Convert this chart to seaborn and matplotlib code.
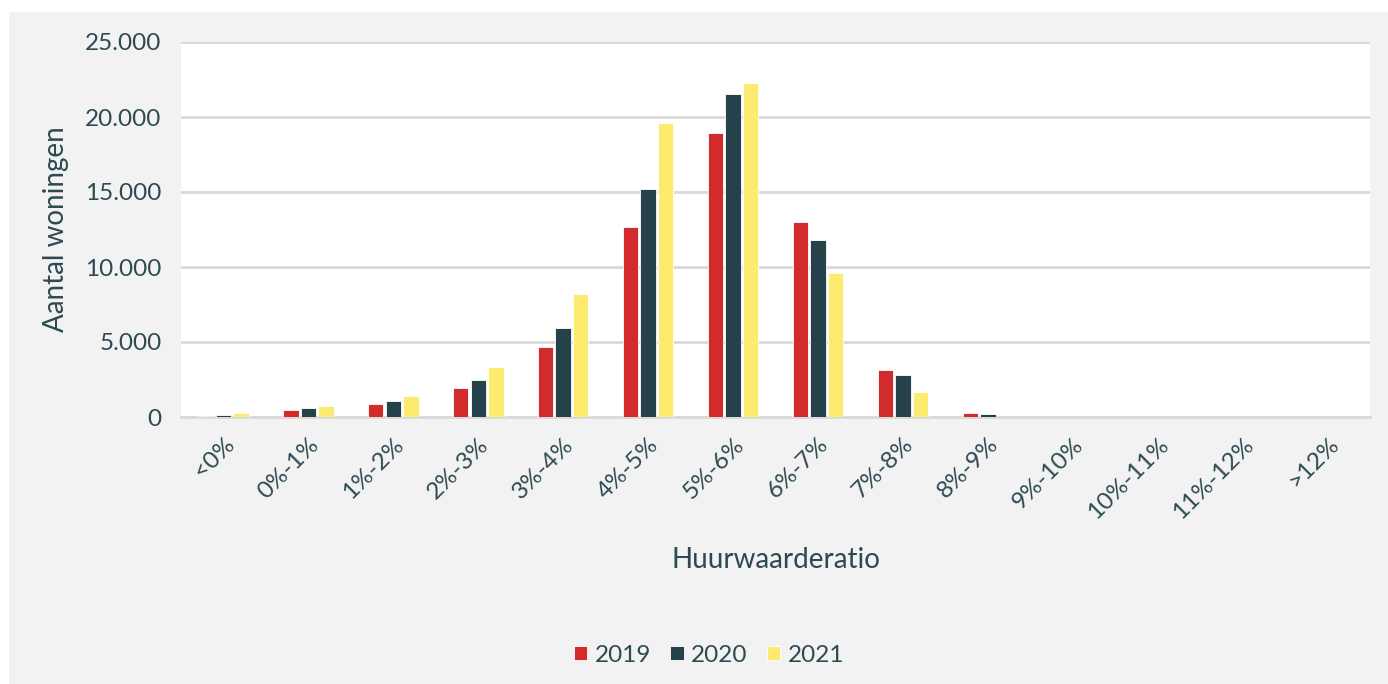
import matplotlib
matplotlib.use('Agg')
import pandas as pd
import seaborn as sns
import matplotlib.pyplot as plt
from matplotlib.patches import Rectangle
from matplotlib.ticker import FuncFormatter

#data
categories = ['<0%', '0%-1%', '1%-2%', '2%-3%', '3%-4%', '4%-5%', '5%-6%',
              '6%-7%', '7%-8%', '8%-9%', '9%-10%', '10%-11%', '11%-12%', '>12%']
years = ['2019', '2020', '2021']
v2019 = [100, 450, 850, 1930, 4700, 12670, 18950, 12980, 3150, 260, 20, 10, 10, 30]
v2020 = [150, 580, 1050, 2450, 5910, 15200, 21530, 11780, 2780, 180, 15, 10, 5, 20]
v2021 = [270, 730, 1400, 3330, 8180, 19600, 22270, 9620, 1650, 30, 10, 5, 5, 10]

colors = ['#d22b2b', '#25424a', '#fdeb70']
text_color = '#2d4a52'

df = pd.DataFrame({
    'Huurwaarderatio': categories * 3,
    'Jaar': [y for y in years for _ in categories],
    'Aantal': v2019 + v2020 + v2021,
})

sns.set_style('white')
plt.rcParams['font.family'] = ['Lato', 'DejaVu Sans']

fig = plt.figure(figsize = (13.88, 6.84), dpi = 100)
fig.patch.set_facecolor('white')
#light grey panel behind the chart
fig.patches.append(Rectangle((9 / 1388, 0), 1 - 9 / 1388, 1 - 12 / 684,
                             transform = fig.transFigure, facecolor = '#f2f2f2',
                             edgecolor = 'none', zorder = -10))

ax = fig.add_axes([181 / 1388, 1 - 417 / 684, (1370 - 181) / 1388, 375 / 684])
ax.set_facecolor('white')

sns.barplot(data = df, x = 'Huurwaarderatio', y = 'Aantal', hue = 'Jaar',
            palette = colors, saturation = 1, width = 0.62, gap = 0.12,
            edgecolor = 'white', linewidth = 0.6, ax = ax, zorder = 3)

ax.set_ylim(0, 25000)
ax.set_xlim(-0.5, len(categories) - 0.5)
ax.set_yticks(range(0, 25001, 5000))
ax.yaxis.set_major_formatter(FuncFormatter(lambda v, p: f'{int(v):,}'.replace(',', '.')))
ax.grid(axis = 'y', color = '#d9d9d9', linewidth = 2, zorder = 0)
ax.set_axisbelow(True)
for s in ['top', 'right', 'left']:
    ax.spines[s].set_visible(False)
ax.spines['bottom'].set_color('#d9d9d9')
ax.spines['bottom'].set_linewidth(2)

ax.tick_params(axis = 'y', length = 0, pad = 14, labelsize = 17.5, labelcolor = text_color)
ax.tick_params(axis = 'x', length = 0, pad = 12, labelsize = 17.5, labelcolor = text_color)
plt.setp(ax.get_xticklabels(), rotation = 45, ha = 'right', rotation_mode = 'anchor')

ax.set_xlabel('Huurwaarderatio', fontsize = 20, color = text_color, labelpad = 18)
ax.set_ylabel('Aantal woningen', fontsize = 20, color = text_color, labelpad = 12)

ax.legend(loc = 'center', bbox_to_anchor = (709 / 1388, 1 - 655 / 684),
          bbox_transform = fig.transFigure, ncol = 3, frameon = False,
          fontsize = 17.5, labelcolor = text_color, handlelength = 0.55,
          handleheight = 0.55, handletextpad = 0.3, columnspacing = 0.8)

plt.savefig('out.png', dpi = 100)
